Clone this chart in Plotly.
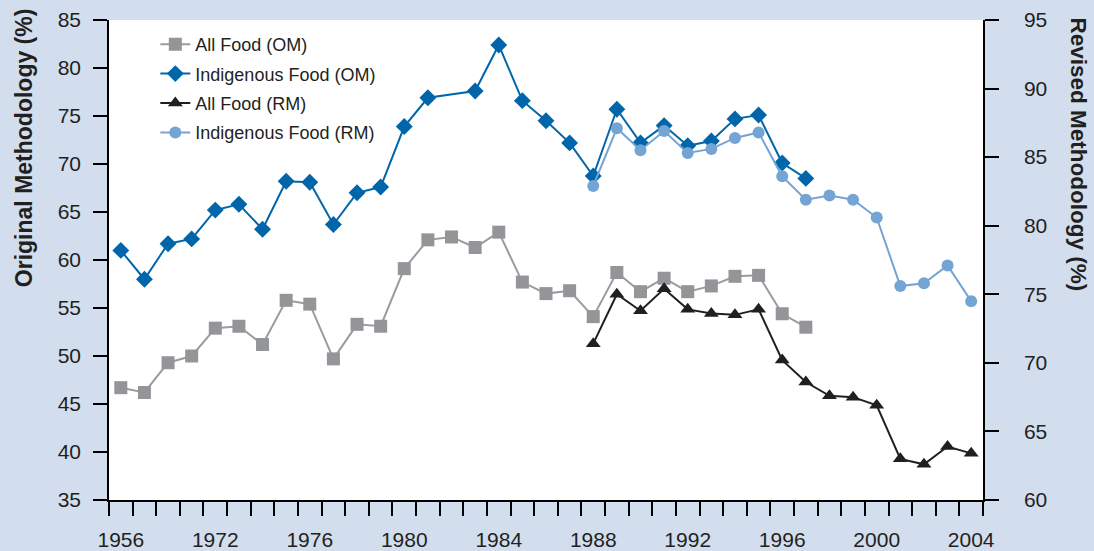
import plotly.graph_objects as go

years = ["1956", "1960", "1965", "1970"] + [str(y) for y in range(1972, 2005)]
label_every = 4

all_food_om = [46.7, 46.2, 49.3, 50.0, 52.9, 53.1, 51.2, 55.8, 55.4, 49.7,
               53.3, 53.1, 59.1, 62.1, 62.4, 61.3, 62.9, 57.7, 56.5, 56.8,
               54.1, 58.7, 56.7, 58.1, 56.7, 57.3, 58.3, 58.4, 54.4, 53.0]
indig_om = [61.0, 58.0, 61.7, 62.2, 65.2, 65.8, 63.2, 68.2, 68.1, 63.7,
            67.0, 67.6, 73.9, 76.9, None, 77.6, 82.4, 76.6, 74.5, 72.2,
            68.75, 75.7, 72.2, 74.0, 71.9, 72.4, 74.7, 75.1, 70.1, 68.5]
all_food_rm_years = [str(y) for y in range(1988, 2005)]
all_food_rm = [71.4, 75.0, 73.8, 75.4, 73.9, 73.6, 73.5, 73.9, 70.2, 68.6,
               67.6, 67.5, 66.9, 63.0, 62.6, 63.9, 63.4]
indig_rm = [82.9, 87.1, 85.5, 86.9, 85.3, 85.6, 86.4, 86.8, 83.6, 81.9,
            82.2, 81.9, 80.6, 75.6, 75.8, 77.1, 74.5]

om_years = years[:len(all_food_om)]

C_GRAY = "#939598"
C_BLUE = "#0066A9"
C_BLACK = "#231F20"
C_LBLUE = "#74A4D3"
BG = "#D2DEEE"
FONT = "Liberation Sans, Arial, Helvetica, sans-serif"

fig = go.Figure()
fig.add_trace(go.Scatter(x=om_years, y=all_food_om, name="All Food (OM)",
                         mode="lines+markers", legendgroup="a",
                         line=dict(color="#9A9B9D", width=2),
                         marker=dict(symbol="square", size=13, color=C_GRAY)))
fig.add_trace(go.Scatter(x=om_years, y=indig_om, name="Indigenous Food (OM)",
                         mode="lines+markers", legendgroup="b", connectgaps=True,
                         line=dict(color=C_BLUE, width=2),
                         marker=dict(symbol="diamond", size=13, color=C_BLUE)))
fig.add_trace(go.Scatter(x=all_food_rm_years, y=all_food_rm, name="All Food (RM)",
                         mode="lines+markers", legendgroup="c", yaxis="y2",
                         line=dict(color=C_BLACK, width=2),
                         marker=dict(symbol="triangle-up", size=13, color=C_BLACK)))
fig.add_trace(go.Scatter(x=all_food_rm_years, y=indig_rm, name="Indigenous Food (RM)",
                         mode="lines+markers", legendgroup="d", yaxis="y2",
                         line=dict(color=C_LBLUE, width=2),
                         marker=dict(symbol="circle", size=12, color=C_LBLUE)))

tick_text = [y if i % label_every == 0 else "" for i, y in enumerate(years)]

axis_common = dict(showline=True, linecolor="black", linewidth=1.5,
                   ticks="outside", ticklen=14, tickwidth=1.5, tickcolor="black",
                   showgrid=False, zeroline=False, automargin=False,
                   tickfont=dict(family=FONT, size=21, color=C_BLACK))

fig.update_layout(
    width=1094, height=551,
    margin=dict(l=109, r=111, t=20, b=51),
    paper_bgcolor=BG, plot_bgcolor="white",
    font=dict(family=FONT, color=C_BLACK),
    xaxis=dict(type="category", categoryorder="array", categoryarray=years,
               tickmode="array", tickvals=years, ticktext=tick_text, tickangle=0,
               tickson="boundaries", range=[-0.5, len(years) - 0.5],
               ticklabelstandoff=20, **axis_common),
    yaxis=dict(range=[35, 85], dtick=5, tick0=35, ticklabelstandoff=8, **axis_common),
    yaxis2=dict(range=[60, 95], dtick=5, tick0=60, overlaying="y", side="right",
                ticklabelstandoff=21, **axis_common),
    legend=dict(x=0.053, y=0.9875, xanchor="left", yanchor="top",
                bgcolor="rgba(0,0,0,0)", traceorder="grouped", tracegroupgap=3,
                font=dict(family=FONT, size=18, color=C_BLACK)),
    showlegend=True,
    annotations=[
        dict(text="<b>Original Methodology (%)</b>", xref="paper", yref="paper",
             x=-0.0973, y=0.735, xanchor="center", yanchor="middle",
             textangle=-90, showarrow=False,
             font=dict(family=FONT, size=23, color=C_BLACK)),
        dict(text="<b>Revised Methodology (%)</b>", xref="paper", yref="paper",
             x=1.1098, y=0.72, xanchor="center", yanchor="middle",
             textangle=90, showarrow=False,
             font=dict(family=FONT, size=22.5, color=C_BLACK)),
    ],
)

fig.write_html(
    "out.html",
    config={"displayModeBar": False},
    post_script="document.body.style.margin='0';document.body.style.background='%s';" % BG,
)
